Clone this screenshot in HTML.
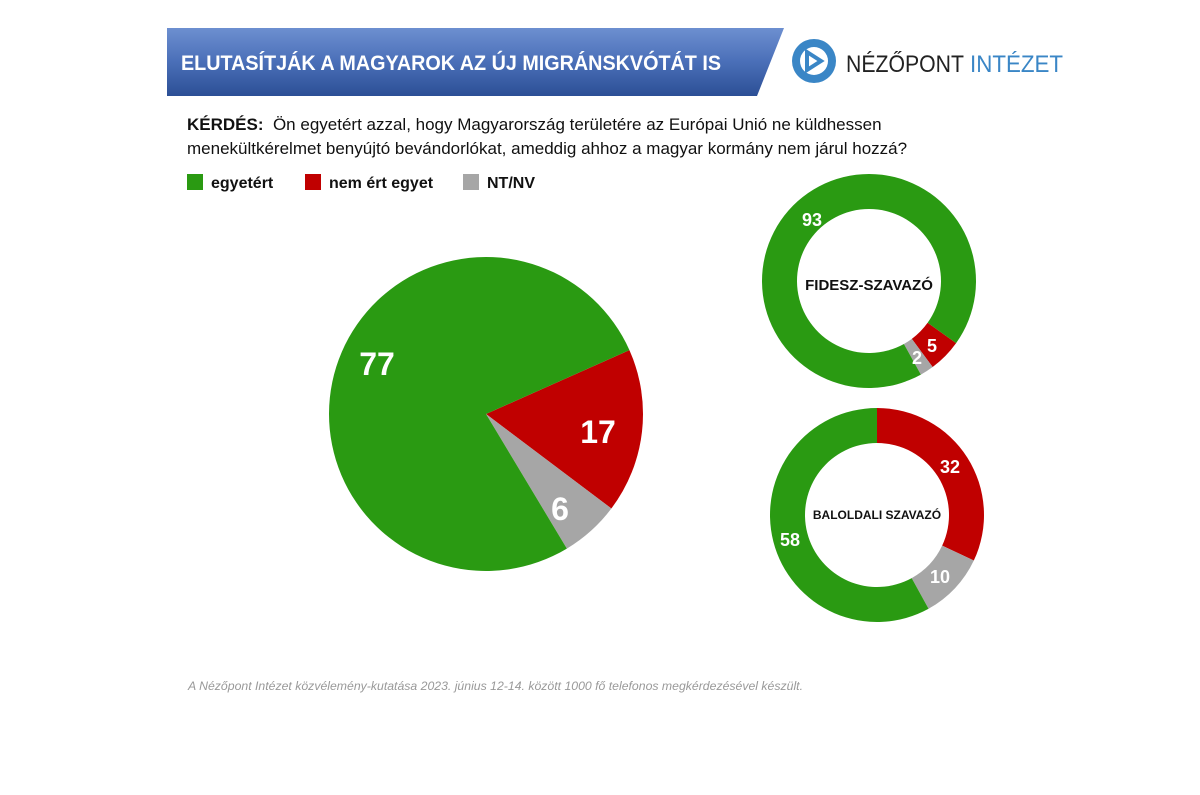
<!DOCTYPE html>
<html><head><meta charset="utf-8"><style>
body{margin:0;background:#fff;width:1200px;height:795px;position:relative;overflow:hidden;font-family:"Liberation Sans",sans-serif}
.t{position:absolute;white-space:nowrap}
</style></head><body>
<svg width="1200" height="795" style="position:absolute;left:0;top:0">
<defs><linearGradient id="g" x1="0" y1="0" x2="0" y2="1"><stop offset="0" stop-color="#6d8fd0"/><stop offset="0.5" stop-color="#4a6fb8"/><stop offset="1" stop-color="#2c4f96"/></linearGradient></defs>
<polygon points="167,28 784,28 757,96 167,96" fill="url(#g)"/>
<text x="181" y="70" fill="#fff" font-family="Liberation Sans" font-weight="bold" font-size="21" textLength="540" lengthAdjust="spacingAndGlyphs">ELUTASÍTJÁK A MAGYAROK AZ ÚJ MIGRÁNSKVÓTÁT IS</text>
<circle cx="814" cy="61" r="22" fill="#3a86c6"/>
<circle cx="814" cy="61" r="14" fill="#fff"/>
<polygon points="807,52 821,61 807,70" fill="none" stroke="#3a86c6" stroke-width="4"/>
<text x="846" y="72" font-family="Liberation Sans" font-size="24" fill="#222" textLength="118" lengthAdjust="spacingAndGlyphs">NÉZŐPONT</text>
<text x="970" y="72" font-family="Liberation Sans" font-size="24" fill="#3a86c6" textLength="93" lengthAdjust="spacingAndGlyphs">INTÉZET</text>
<text x="188" y="690" font-family="Liberation Sans" font-style="italic" font-size="12" fill="#999" textLength="615" lengthAdjust="spacingAndGlyphs">A Nézőpont Intézet közvélemény-kutatása 2023. június 12-14. között 1000 fő telefonos megkérdezésével készült.</text>
<g id="p"></g>
</svg>
<div class="t" style="left:187px;top:115px;font-size:17px;color:#111"><b>KÉRDÉS:</b>&nbsp; Ön egyetért azzal, hogy Magyarország területére az Európai Unió ne küldhessen</div>
<div class="t" style="left:187px;top:139px;font-size:17px;color:#111">menekültkérelmet benyújtó bevándorlókat, ameddig ahhoz a magyar kormány nem járul hozzá?</div>
<div class="t" style="left:187px;top:174px;font-size:16px;color:#111"><span style="display:inline-block;width:16px;height:16px;background:#2a9a12;vertical-align:-2px;margin-right:8px"></span><b>egyetért</b></div>
<div class="t" style="left:305px;top:174px;font-size:16px;color:#111"><span style="display:inline-block;width:16px;height:16px;background:#c00000;vertical-align:-2px;margin-right:8px"></span><b>nem ért egyet</b></div>
<div class="t" style="left:463px;top:174px;font-size:16px;color:#111"><span style="display:inline-block;width:16px;height:16px;background:#a6a6a6;vertical-align:-2px;margin-right:8px"></span><b>NT/NV</b></div>
<script>
var s=document.getElementById('p');
function pt(cx,cy,r,a){a=a*Math.PI/180;return [cx+r*Math.sin(a),cy-r*Math.cos(a)];}
function seg(cx,cy,R,r,a0,a1,c){var l=(a1-a0)>180?1:0;var p0=pt(cx,cy,R,a0),p1=pt(cx,cy,R,a1);var d;
if(r==0)d='M'+cx+','+cy+'L'+p0+'A'+R+','+R+' 0 '+l+' 1 '+p1+'Z';
else{var q0=pt(cx,cy,r,a1),q1=pt(cx,cy,r,a0);d='M'+p0+'A'+R+','+R+' 0 '+l+' 1 '+p1+'L'+q0+'A'+r+','+r+' 0 '+l+' 0 '+q1+'Z';}
s.insertAdjacentHTML('beforeend','<path d="'+d+'" fill="'+c+'"/>');}
var G='#2a9a12',Rd='#c00000',Gy='#a6a6a6';
seg(486,414,157,0,66,127,Rd);seg(486,414,157,0,127,149,Gy);seg(486,414,157,0,149,426,G);
seg(869,281,107,72,125.5,143.5,Rd);seg(869,281,107,72,143.5,151,Gy);seg(869,281,107,72,151,485.5,G);
seg(877,515,107,72,0,115.2,Rd);seg(877,515,107,72,115.2,151.2,Gy);seg(877,515,107,72,151.2,360,G);
function tx(x,y,t,sz,c){s.insertAdjacentHTML('beforeend','<text x="'+x+'" y="'+y+'" font-family="Liberation Sans" font-weight="bold" font-size="'+sz+'" fill="'+c+'" text-anchor="middle">'+t+'</text>');}
tx(377,375,'77',32,'#fff');tx(598,443,'17',32,'#fff');tx(560,520,'6',32,'#fff');
tx(812,226,'93',18,'#fff');tx(932,352,'5',18,'#fff');tx(917,364,'2',18,'#fff');
tx(950,473,'32',18,'#fff');tx(940,583,'10',18,'#fff');tx(790,546,'58',18,'#fff');
tx(869,290,'FIDESZ-SZAVAZÓ',15,'#111');tx(877,519,'BALOLDALI SZAVAZÓ',12,'#111');
</script>
</body></html>
